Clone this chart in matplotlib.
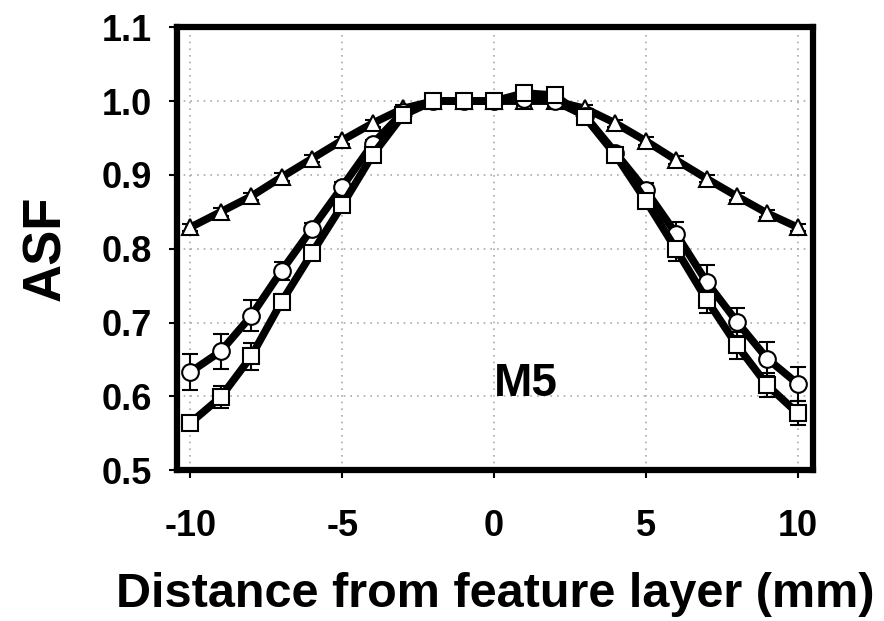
"""ASF versus distance from the feature layer, M5 phantom."""

import matplotlib

matplotlib.use("Agg")
import matplotlib.pyplot as plt

plt.rcParams["font.family"] = ["Liberation Sans", "DejaVu Sans"]
plt.rcParams["font.weight"] = "bold"
plt.rcParams["axes.unicode_minus"] = False

distance = list(range(-10, 11))

asf_triangle = [0.829, 0.850, 0.871, 0.897, 0.922, 0.947, 0.970, 0.990, 1.000, 1.000, 1.000,
                1.000, 1.000, 0.990, 0.970, 0.946, 0.920, 0.895, 0.871, 0.848, 0.829]
err_triangle = [0.005] * 21

asf_circle = [0.633, 0.661, 0.709, 0.770, 0.827, 0.884, 0.942, 0.985, 1.000, 1.000, 1.000,
              1.003, 1.000, 0.980, 0.930, 0.879, 0.820, 0.755, 0.701, 0.651, 0.617]
err_circle = [0.024, 0.024, 0.021, 0.012, 0.008, 0.006, 0.005, 0.004, 0.003, 0.003, 0.003,
              0.003, 0.003, 0.004, 0.006, 0.010, 0.016, 0.023, 0.019, 0.023, 0.023]

asf_square = [0.564, 0.599, 0.654, 0.728, 0.794, 0.859, 0.927, 0.981, 1.000, 1.000, 1.000,
              1.011, 1.008, 0.978, 0.927, 0.865, 0.799, 0.731, 0.669, 0.615, 0.577]
err_square = [0.008, 0.015, 0.018, 0.010, 0.006, 0.005, 0.005, 0.004, 0.003, 0.003, 0.003,
              0.003, 0.004, 0.005, 0.008, 0.010, 0.015, 0.018, 0.018, 0.016, 0.016]

series = [
    (asf_triangle, err_triangle, "^"),
    (asf_circle, err_circle, "o"),
    (asf_square, err_square, "s"),
]

fig = plt.figure(figsize=(8.84, 6.21), dpi=100)
ax = fig.add_axes([0.200, 0.243, 0.7195, 0.713])

for values, errors, marker in series:
    ax.errorbar(distance, values, yerr=errors, color="black", linewidth=5.5,
                marker=marker, markersize=12, markerfacecolor="white",
                markeredgecolor="black", markeredgewidth=1.5,
                ecolor="black", elinewidth=1.5, capsize=6, capthick=1.5, zorder=3)

ax.set_xlim(-10.45, 10.5)
ax.set_ylim(0.5, 1.1)
ax.set_xticks([-10, -5, 0, 5, 10])
ax.set_yticks([0.5, 0.6, 0.7, 0.8, 0.9, 1.0, 1.1])
ax.set_yticklabels([f"{v:.1f}" for v in ax.get_yticks()])
ax.grid(True, linestyle=(0, (1, 3)), color="#aaaaaa", linewidth=1.2, zorder=0)
ax.set_axisbelow(True)

for spine in ax.spines.values():
    spine.set_linewidth(4.5)
ax.tick_params(axis="both", direction="out", length=6, width=1.5, labelsize=26, pad=12)
ax.tick_params(axis="x", pad=22)

ax.set_xlabel("Distance from feature layer (mm)", fontsize=35, fontweight="bold", labelpad=20)
ax.set_ylabel("ASF", fontsize=38, fontweight="bold", labelpad=22)
ax.text(0.0, 0.6, "M5", fontsize=33, fontweight="bold", ha="left", va="baseline")

fig.savefig("out.png", dpi=100)
